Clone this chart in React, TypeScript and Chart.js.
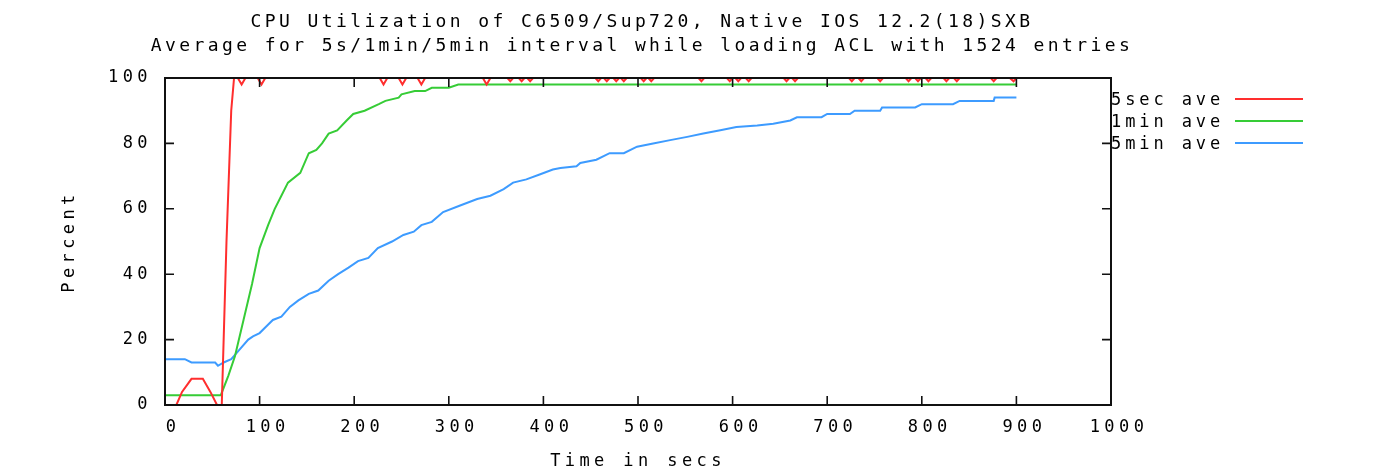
import React, { useEffect, useRef } from "react";
import { Chart, registerables } from "chart.js";

Chart.register(...registerables);

// ---------- text ----------
const TITLE_LINES = [
  "CPU Utilization of C6509/Sup720, Native IOS 12.2(18)SXB",
  "Average for 5s/1min/5min interval while loading ACL with 1524 entries",
];
const X_TITLE = "Time in secs";
const Y_TITLE = "Percent";
const SERIES_LABELS = ["5sec ave", "1min ave", "5min ave"];

// ---------- axes ----------
const X_MIN = 0;
const X_MAX = 1000;
const X_STEP = 100;
const Y_MIN = 0;
const Y_MAX = 100;
const Y_STEP = 20;

// ---------- data (time in secs, percent) ----------
const redTimes = [
  0, 12, 18, 28, 40, 48, 55, 60, 65, 70, 73,
  77, 81, 85, 98, 102, 106, 227, 231, 235, 247, 251, 255, 267, 271, 275, 336, 340, 344,
  362, 365, 368, 374, 377, 380, 383, 386, 389, 455, 458, 461, 464, 467, 470,
  474, 477, 480, 482, 485, 488, 503, 506, 509, 511, 514, 517, 564, 567, 570,
  594, 597, 600, 603, 606, 609, 614, 617, 620, 654, 657, 660, 663, 666, 669,
  723, 726, 729, 733, 736, 739, 753, 756, 759, 783, 786, 789, 793, 796, 799,
  804, 807, 810, 823, 826, 829, 834, 837, 840, 873, 876, 879, 893, 897, 900,
];
const redValues = [
  0, 0, 4, 8, 8, 4, 0, 0, 50, 90, 100,
  100, 98, 100, 100, 98, 100, 100, 98, 100, 100, 98, 100, 100, 98, 100, 100, 98, 100,
  100, 99, 100, 100, 99, 100, 100, 99, 100, 100, 99, 100, 100, 99, 100,
  100, 99, 100, 100, 99, 100, 100, 99, 100, 100, 99, 100, 100, 99, 100,
  100, 99, 100, 100, 99, 100, 100, 99, 100, 100, 99, 100, 100, 99, 100,
  100, 99, 100, 100, 99, 100, 100, 99, 100, 100, 99, 100, 100, 99, 100,
  100, 99, 100, 100, 99, 100, 100, 99, 100, 100, 99, 100, 100, 99, 100,
];

const greenTimes = [
  0, 59, 67, 74, 83, 92, 100, 109, 116, 123,
  130, 143, 152, 160, 166, 173, 182, 192, 199, 211,
  226, 233, 247, 250, 264, 275, 282, 300, 310, 900,
];
const greenValues = [
  3, 3, 9, 15, 26, 37, 48, 55, 60, 64,
  68, 71, 77, 78, 80, 83, 84, 87, 89, 90,
  92, 93, 94, 95, 96, 96, 97, 97, 98, 98,
];

const blueTimes = [
  0, 21, 28, 53, 56, 62, 70, 79, 88, 93,
  100, 107, 114, 123, 132, 141, 152, 162, 173, 183,
  194, 204, 215, 225, 240, 252, 263, 271, 282, 294,
  312, 330, 344, 358, 368, 382, 396, 410, 418, 435,
  439, 456, 470, 485, 499, 516, 534, 552, 569, 587,
  604, 626, 643, 661, 668, 694, 700, 724, 729, 756,
  758, 793, 800, 833, 840, 876, 877, 900,
];
const blueValues = [
  14, 14, 13, 13, 12, 13, 14, 17, 20, 21,
  22, 24, 26, 27, 30, 32, 34, 35, 38, 40,
  42, 44, 45, 48, 50, 52, 53, 55, 56, 59,
  61, 63, 64, 66, 68, 69, 70.5, 72, 72.5, 73,
  74, 75, 77, 77, 79, 80, 81, 82, 83, 84,
  85, 85.5, 86, 87, 88, 88, 89, 89, 90, 90,
  91, 91, 92, 92, 93, 93, 94, 94,
];

// ---------- styles ----------
const FONT = '"DejaVu Sans Mono", monospace';
const TEXT_COLOR = "#000000";
const FRAME_COLOR = "#111111";
const SERIES_COLORS = ["#ff2e2e", "#36cc36", "#3d9bff"];
const TICK_LEN = 9;
const W = 1381;
const H = 476;

const toPoints = (xs: number[], ys: number[]) => xs.map((x, i) => ({ x, y: ys[i] }));

const gnuplotPlugin = {
  id: "gnuplotFrame",
  beforeDraw(chart: any) {
    chart.ctx.letterSpacing = "4.4px";
  },
  afterDatasetsDraw(chart: any) {
    const { ctx, chartArea: a, scales } = chart;
    ctx.save();
    ctx.strokeStyle = FRAME_COLOR;
    ctx.lineWidth = 2;
    ctx.strokeRect(a.left, a.top, a.right - a.left, a.bottom - a.top);
    ctx.lineWidth = 1.6;
    ctx.beginPath();
    for (const t of scales.x.ticks) {
      const px = scales.x.getPixelForValue(t.value);
      ctx.moveTo(px, a.bottom);
      ctx.lineTo(px, a.bottom - TICK_LEN);
      ctx.moveTo(px, a.top);
      ctx.lineTo(px, a.top + TICK_LEN);
    }
    for (const t of scales.y.ticks) {
      const py = scales.y.getPixelForValue(t.value);
      ctx.moveTo(a.left, py);
      ctx.lineTo(a.left + TICK_LEN, py);
      ctx.moveTo(a.right, py);
      ctx.lineTo(a.right - TICK_LEN, py);
    }
    ctx.stroke();
    ctx.restore();
  },
  afterDraw(chart: any) {
    const { ctx, chartArea: a } = chart;
    ctx.save();
    ctx.fillStyle = TEXT_COLOR;
    ctx.font = `18px ${FONT}`;
    ctx.letterSpacing = "3.4px";
    ctx.textAlign = "center";
    ctx.textBaseline = "alphabetic";
    TITLE_LINES.forEach((line, i) => ctx.fillText(line, 642, 27 + i * 24));

    ctx.font = `17px ${FONT}`;
    ctx.letterSpacing = "3.9px";
    ctx.textAlign = "left";
    chart.data.datasets.forEach((ds: any, i: number) => {
      const y = 99 + i * 22;
      ctx.fillStyle = TEXT_COLOR;
      ctx.fillText(ds.label, a.right, y + 6);
      ctx.strokeStyle = ds.borderColor;
      ctx.lineWidth = 2;
      ctx.beginPath();
      ctx.moveTo(a.right + 124, y);
      ctx.lineTo(a.right + 192, y);
      ctx.stroke();
    });
    ctx.restore();
  },
};

export default function App() {
  const ref = useRef<HTMLCanvasElement>(null);
  useEffect(() => {
    document.body.style.margin = "0";
    const canvas = ref.current!;
    const font = { family: FONT, size: 17 };
    const chart = new Chart(canvas, {
      type: "line",
      data: {
        datasets: [
          { label: SERIES_LABELS[0], data: toPoints(redTimes, redValues), borderColor: SERIES_COLORS[0] },
          { label: SERIES_LABELS[1], data: toPoints(greenTimes, greenValues), borderColor: SERIES_COLORS[1] },
          { label: SERIES_LABELS[2], data: toPoints(blueTimes, blueValues), borderColor: SERIES_COLORS[2] },
        ],
      },
      options: {
        responsive: false,
        animation: false,
        devicePixelRatio: 1,
        layout: { padding: { left: 0, right: 270, top: 78, bottom: 0 } },
        plugins: {
          legend: { display: false },
          title: { display: false },
          tooltip: { enabled: false },
        },
        elements: {
          point: { radius: 0 },
          line: { tension: 0, borderWidth: 2, fill: false },
        },
        scales: {
          x: {
            type: "linear",
            min: X_MIN,
            max: X_MAX,
            afterFit: (s: any) => { s.height = 71; },
            ticks: {
              stepSize: X_STEP,
              autoSkip: false,
              maxRotation: 0,
              padding: 12,
              labelOffset: 8,
              font,
              color: TEXT_COLOR,
              callback: (v: any) => String(v),
            },
            grid: { display: false, drawTicks: false },
            border: { display: false },
            title: { display: true, text: X_TITLE, font, color: TEXT_COLOR, padding: { top: 0, bottom: 4 } },
          },
          y: {
            type: "linear",
            min: Y_MIN,
            max: Y_MAX,
            afterFit: (s: any) => { s.width = 165; },
            ticks: { stepSize: Y_STEP, padding: 13, font, color: TEXT_COLOR, callback: (v: any) => String(v) },
            grid: { display: false, drawTicks: false },
            border: { display: false },
            title: { display: true, text: Y_TITLE, font, color: TEXT_COLOR, padding: { top: 59, bottom: 0 } },
          },
        },
      } as any,
      plugins: [gnuplotPlugin as any],
    });
    return () => chart.destroy();
  }, []);
  return (
    <canvas
      ref={ref}
      width={W}
      height={H}
      style={{ display: "block", width: `${W}px`, height: `${H}px` }}
    />
  );
}
